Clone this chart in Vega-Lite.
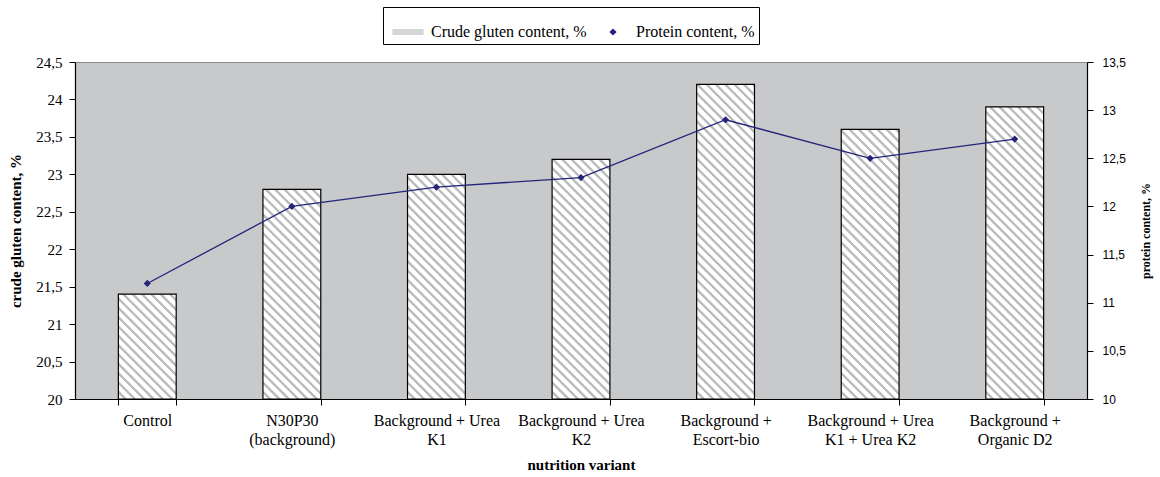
{
  "$schema": "https://vega.github.io/schema/vega-lite/v6.json",
  "width": 1012,
  "height": 337,
  "autosize": "none",
  "padding": {"left": 75, "top": 62, "right": 73, "bottom": 78},
  "background": "white",
  "params": [
    {"name": "stripes", "value": [
      {"offset": 0, "color": "#ffffff"}, {"offset": 0.0135, "color": "#ffffff"}, {"offset": 0.0155, "color": "#bdbdbd"}, {"offset": 0.0225, "color": "#bdbdbd"},
      {"offset": 0.025, "color": "#ffffff"}, {"offset": 0.0385, "color": "#ffffff"}, {"offset": 0.0405, "color": "#bdbdbd"}, {"offset": 0.0475, "color": "#bdbdbd"},
      {"offset": 0.05, "color": "#ffffff"}, {"offset": 0.0635, "color": "#ffffff"}, {"offset": 0.0655, "color": "#bdbdbd"}, {"offset": 0.0725, "color": "#bdbdbd"},
      {"offset": 0.075, "color": "#ffffff"}, {"offset": 0.0885, "color": "#ffffff"}, {"offset": 0.0905, "color": "#bdbdbd"}, {"offset": 0.0975, "color": "#bdbdbd"},
      {"offset": 0.1, "color": "#ffffff"}, {"offset": 0.1135, "color": "#ffffff"}, {"offset": 0.1155, "color": "#bdbdbd"}, {"offset": 0.1225, "color": "#bdbdbd"},
      {"offset": 0.125, "color": "#ffffff"}, {"offset": 0.1385, "color": "#ffffff"}, {"offset": 0.1405, "color": "#bdbdbd"}, {"offset": 0.1475, "color": "#bdbdbd"},
      {"offset": 0.15, "color": "#ffffff"}, {"offset": 0.1635, "color": "#ffffff"}, {"offset": 0.1655, "color": "#bdbdbd"}, {"offset": 0.1725, "color": "#bdbdbd"},
      {"offset": 0.175, "color": "#ffffff"}, {"offset": 0.1885, "color": "#ffffff"}, {"offset": 0.1905, "color": "#bdbdbd"}, {"offset": 0.1975, "color": "#bdbdbd"},
      {"offset": 0.2, "color": "#ffffff"}, {"offset": 0.2135, "color": "#ffffff"}, {"offset": 0.2155, "color": "#bdbdbd"}, {"offset": 0.2225, "color": "#bdbdbd"},
      {"offset": 0.225, "color": "#ffffff"}, {"offset": 0.2385, "color": "#ffffff"}, {"offset": 0.2405, "color": "#bdbdbd"}, {"offset": 0.2475, "color": "#bdbdbd"},
      {"offset": 0.25, "color": "#ffffff"}, {"offset": 0.2635, "color": "#ffffff"}, {"offset": 0.2655, "color": "#bdbdbd"}, {"offset": 0.2725, "color": "#bdbdbd"},
      {"offset": 0.275, "color": "#ffffff"}, {"offset": 0.2885, "color": "#ffffff"}, {"offset": 0.2905, "color": "#bdbdbd"}, {"offset": 0.2975, "color": "#bdbdbd"},
      {"offset": 0.3, "color": "#ffffff"}, {"offset": 0.3135, "color": "#ffffff"}, {"offset": 0.3155, "color": "#bdbdbd"}, {"offset": 0.3225, "color": "#bdbdbd"},
      {"offset": 0.325, "color": "#ffffff"}, {"offset": 0.3385, "color": "#ffffff"}, {"offset": 0.3405, "color": "#bdbdbd"}, {"offset": 0.3475, "color": "#bdbdbd"},
      {"offset": 0.35, "color": "#ffffff"}, {"offset": 0.3635, "color": "#ffffff"}, {"offset": 0.3655, "color": "#bdbdbd"}, {"offset": 0.3725, "color": "#bdbdbd"},
      {"offset": 0.375, "color": "#ffffff"}, {"offset": 0.3885, "color": "#ffffff"}, {"offset": 0.3905, "color": "#bdbdbd"}, {"offset": 0.3975, "color": "#bdbdbd"},
      {"offset": 0.4, "color": "#ffffff"}, {"offset": 0.4135, "color": "#ffffff"}, {"offset": 0.4155, "color": "#bdbdbd"}, {"offset": 0.4225, "color": "#bdbdbd"},
      {"offset": 0.425, "color": "#ffffff"}, {"offset": 0.4385, "color": "#ffffff"}, {"offset": 0.4405, "color": "#bdbdbd"}, {"offset": 0.4475, "color": "#bdbdbd"},
      {"offset": 0.45, "color": "#ffffff"}, {"offset": 0.4635, "color": "#ffffff"}, {"offset": 0.4655, "color": "#bdbdbd"}, {"offset": 0.4725, "color": "#bdbdbd"},
      {"offset": 0.475, "color": "#ffffff"}, {"offset": 0.4885, "color": "#ffffff"}, {"offset": 0.4905, "color": "#bdbdbd"}, {"offset": 0.4975, "color": "#bdbdbd"},
      {"offset": 0.5, "color": "#ffffff"}, {"offset": 0.5135, "color": "#ffffff"}, {"offset": 0.5155, "color": "#bdbdbd"}, {"offset": 0.5225, "color": "#bdbdbd"},
      {"offset": 0.525, "color": "#ffffff"}, {"offset": 0.5385, "color": "#ffffff"}, {"offset": 0.5405, "color": "#bdbdbd"}, {"offset": 0.5475, "color": "#bdbdbd"},
      {"offset": 0.55, "color": "#ffffff"}, {"offset": 0.5635, "color": "#ffffff"}, {"offset": 0.5655, "color": "#bdbdbd"}, {"offset": 0.5725, "color": "#bdbdbd"},
      {"offset": 0.575, "color": "#ffffff"}, {"offset": 0.5885, "color": "#ffffff"}, {"offset": 0.5905, "color": "#bdbdbd"}, {"offset": 0.5975, "color": "#bdbdbd"},
      {"offset": 0.6, "color": "#ffffff"}, {"offset": 0.6135, "color": "#ffffff"}, {"offset": 0.6155, "color": "#bdbdbd"}, {"offset": 0.6225, "color": "#bdbdbd"},
      {"offset": 0.625, "color": "#ffffff"}, {"offset": 0.6385, "color": "#ffffff"}, {"offset": 0.6405, "color": "#bdbdbd"}, {"offset": 0.6475, "color": "#bdbdbd"},
      {"offset": 0.65, "color": "#ffffff"}, {"offset": 0.6635, "color": "#ffffff"}, {"offset": 0.6655, "color": "#bdbdbd"}, {"offset": 0.6725, "color": "#bdbdbd"},
      {"offset": 0.675, "color": "#ffffff"}, {"offset": 0.6885, "color": "#ffffff"}, {"offset": 0.6905, "color": "#bdbdbd"}, {"offset": 0.6975, "color": "#bdbdbd"},
      {"offset": 0.7, "color": "#ffffff"}, {"offset": 0.7135, "color": "#ffffff"}, {"offset": 0.7155, "color": "#bdbdbd"}, {"offset": 0.7225, "color": "#bdbdbd"},
      {"offset": 0.725, "color": "#ffffff"}, {"offset": 0.7385, "color": "#ffffff"}, {"offset": 0.7405, "color": "#bdbdbd"}, {"offset": 0.7475, "color": "#bdbdbd"},
      {"offset": 0.75, "color": "#ffffff"}, {"offset": 0.7635, "color": "#ffffff"}, {"offset": 0.7655, "color": "#bdbdbd"}, {"offset": 0.7725, "color": "#bdbdbd"},
      {"offset": 0.775, "color": "#ffffff"}, {"offset": 0.7885, "color": "#ffffff"}, {"offset": 0.7905, "color": "#bdbdbd"}, {"offset": 0.7975, "color": "#bdbdbd"},
      {"offset": 0.8, "color": "#ffffff"}, {"offset": 0.8135, "color": "#ffffff"}, {"offset": 0.8155, "color": "#bdbdbd"}, {"offset": 0.8225, "color": "#bdbdbd"},
      {"offset": 0.825, "color": "#ffffff"}, {"offset": 0.8385, "color": "#ffffff"}, {"offset": 0.8405, "color": "#bdbdbd"}, {"offset": 0.8475, "color": "#bdbdbd"},
      {"offset": 0.85, "color": "#ffffff"}, {"offset": 0.8635, "color": "#ffffff"}, {"offset": 0.8655, "color": "#bdbdbd"}, {"offset": 0.8725, "color": "#bdbdbd"},
      {"offset": 0.875, "color": "#ffffff"}, {"offset": 0.8885, "color": "#ffffff"}, {"offset": 0.8905, "color": "#bdbdbd"}, {"offset": 0.8975, "color": "#bdbdbd"},
      {"offset": 0.9, "color": "#ffffff"}, {"offset": 0.9135, "color": "#ffffff"}, {"offset": 0.9155, "color": "#bdbdbd"}, {"offset": 0.9225, "color": "#bdbdbd"},
      {"offset": 0.925, "color": "#ffffff"}, {"offset": 0.9385, "color": "#ffffff"}, {"offset": 0.9405, "color": "#bdbdbd"}, {"offset": 0.9475, "color": "#bdbdbd"},
      {"offset": 0.95, "color": "#ffffff"}, {"offset": 0.9635, "color": "#ffffff"}, {"offset": 0.9655, "color": "#bdbdbd"}, {"offset": 0.9725, "color": "#bdbdbd"},
      {"offset": 0.975, "color": "#ffffff"}, {"offset": 0.9885, "color": "#ffffff"}, {"offset": 0.9905, "color": "#bdbdbd"}, {"offset": 0.9975, "color": "#bdbdbd"},
      {"offset": 1, "color": "#ffffff"}
    ]}
  ],
  "data": {
    "values": [
      {"variant": "Control", "gluten": 21.4, "protein": 11.2},
      {"variant": "N30P30\n(background)", "gluten": 22.8, "protein": 12.0},
      {"variant": "Background + Urea\nK1", "gluten": 23.0, "protein": 12.2},
      {"variant": "Background + Urea\nK2", "gluten": 23.2, "protein": 12.3},
      {"variant": "Background +\nEscort-bio", "gluten": 24.2, "protein": 12.9},
      {"variant": "Background + Urea\nK1 + Urea K2", "gluten": 23.6, "protein": 12.5},
      {"variant": "Background +\nOrganic D2", "gluten": 23.9, "protein": 12.7}
    ]
  },
  "config": {
    "view": {"fill": "#c8c9cb", "stroke": "#8c8c8c", "strokeWidth": 1},
    "axis": {"grid": false, "domainColor": "#000000", "domainWidth": 1.2, "tickColor": "#000000", "tickWidth": 1, "labelColor": "#000000", "titleColor": "#000000"}
  },
  "encoding": {
    "x": {
      "field": "variant", "type": "nominal", "sort": null,
      "scale": {"paddingInner": 0.6, "paddingOuter": 0.3},
      "axis": {
        "title": "nutrition variant", "labelAngle": 0,
        "labelExpr": "isValid(datum.value) ? (indexof(datum.value, '\\n') >= 0 ? split(datum.value, '\\n') : datum.value) : ''",
        "labelFont": "Liberation Serif", "labelFontSize": 16, "labelLineHeight": 19,
        "labelPadding": 7, "labelLimit": 300, "tickBand": "extent", "tickSize": 6,
        "titleFont": "Liberation Serif", "titleFontWeight": "bold", "titleFontSize": 15, "titlePadding": 10
      }
    }
  },
  "layer": [
    {
      "mark": {
        "type": "bar", "stroke": "#000000", "strokeWidth": 1.2,
        "fill": {"expr": "{gradient: 'linear', x1: 0, y1: 1, x2: 373.35*57.83/(3344.3+pow((datum.gluten-20)*74.889,2)), y2: 1-373.35*(datum.gluten-20)*74.889/(3344.3+pow((datum.gluten-20)*74.889,2)), stops: stripes}"}
      },
      "encoding": {
        "y": {
          "field": "gluten", "type": "quantitative",
          "scale": {"domain": [20, 24.5], "nice": false, "zero": false},
          "axis": {
            "orient": "left", "title": "crude gluten content, %",
            "values": [20, 20.5, 21, 21.5, 22, 22.5, 23, 23.5, 24, 24.5],
            "labelExpr": "replace(toString(datum.value), '.', ',')",
            "labelFont": "Liberation Serif", "labelFontSize": 15, "labelPadding": 7, "tickSize": 6,
            "titleFont": "Liberation Serif", "titleFontWeight": "bold", "titleFontSize": 15, "titlePadding": 12
          }
        },
        "y2": {"datum": 20}
      }
    },
    {
      "encoding": {
        "y": {
          "field": "protein", "type": "quantitative",
          "scale": {"domain": [10, 13.5], "nice": false, "zero": false},
          "axis": {
            "orient": "right", "title": "protein content, %", "titleAngle": 270,
            "values": [10, 10.5, 11, 11.5, 12, 12.5, 13, 13.5],
            "labelExpr": "replace(toString(datum.value), '.', ',')",
            "labelFont": "Liberation Sans", "labelFontSize": 12, "labelPadding": 9, "tickSize": 6,
            "titleFont": "Liberation Serif", "titleFontWeight": "bold", "titleFontSize": 12, "titlePadding": 27
          }
        }
      },
      "layer": [
        {"mark": {"type": "line", "color": "#24247a", "strokeWidth": 1.3}},
        {
          "mark": {"type": "point", "filled": true, "size": 1600, "opacity": 1},
          "encoding": {
            "color": {
              "datum": "Protein content, %",
              "scale": {"domain": ["Crude gluten content, %", "Protein content, %"], "range": ["#d6d6d6", "#24247a"]},
              "legend": {
                "title": null, "orient": "none", "legendX": 308, "legendY": -55, "direction": "horizontal",
                "strokeColor": "#000000", "fillColor": "#ffffff", "padding": 4,
                "symbolSize": 1600, "labelFont": "Liberation Serif", "labelFontSize": 16, "labelColor": "#000000",
                "labelOffset": 2, "columnPadding": 5
              }
            },
            "shape": {
              "datum": "Protein content, %",
              "scale": {"domain": ["Crude gluten content, %", "Protein content, %"], "range": ["M-0.78,-0.15L0.78,-0.15L0.78,0.15L-0.78,0.15Z", "M0,-0.18L0.18,0L0,0.18L-0.18,0Z"]},
              "legend": {
                "title": null, "orient": "none", "legendX": 308, "legendY": -55, "direction": "horizontal",
                "strokeColor": "#000000", "fillColor": "#ffffff", "padding": 4,
                "symbolSize": 1600, "labelFont": "Liberation Serif", "labelFontSize": 16, "labelColor": "#000000",
                "labelOffset": 2, "columnPadding": 5
              }
            }
          }
        }
      ]
    }
  ],
  "resolve": {"scale": {"y": "independent"}, "axis": {"y": "independent"}}
}
